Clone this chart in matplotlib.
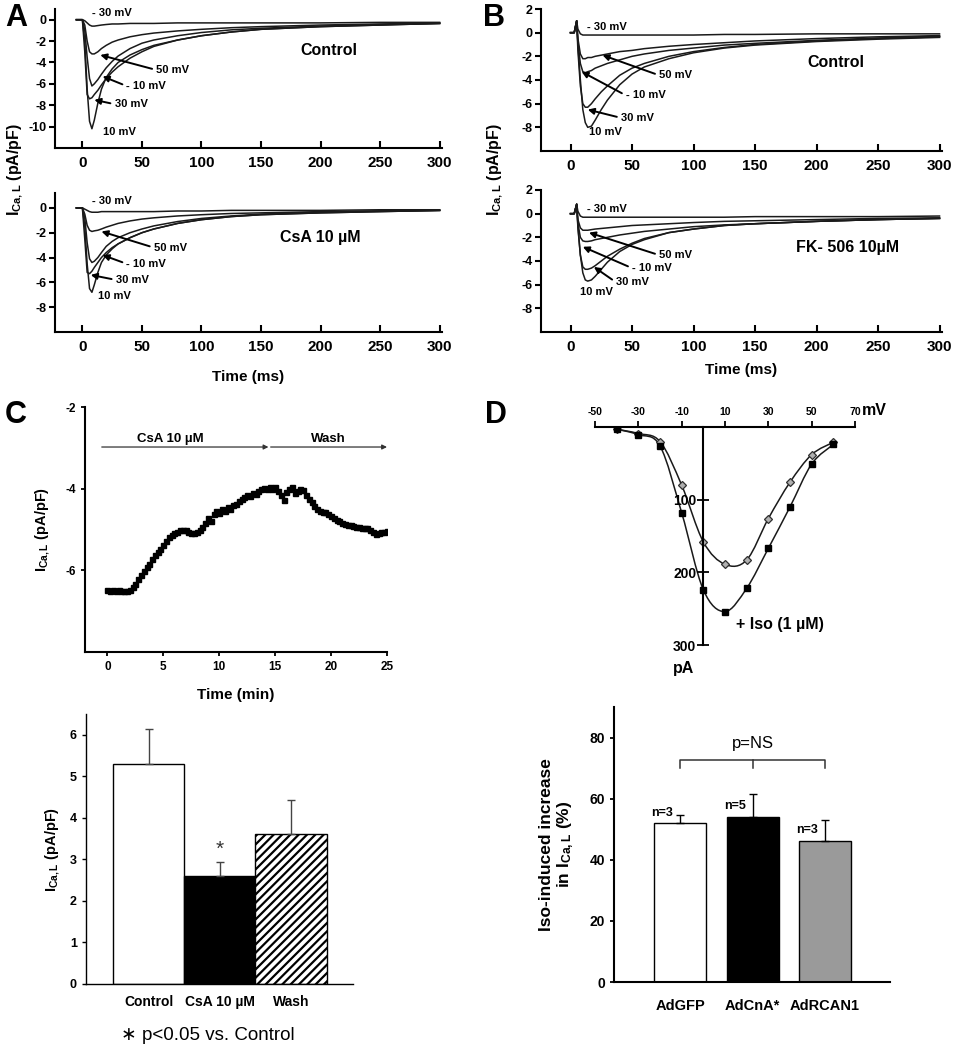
import numpy as np
import matplotlib
matplotlib.use("Agg")
import matplotlib.pyplot as plt
from matplotlib.path import Path
from matplotlib.patches import PathPatch

plt.rcParams['font.family'] = ['Liberation Sans', 'DejaVu Sans']
plt.rcParams['font.weight'] = 'bold'
plt.rcParams['axes.labelweight'] = 'bold'
plt.rcParams['axes.unicode_minus'] = False
plt.rcParams['mathtext.fontset'] = 'custom'
plt.rcParams['mathtext.rm'] = 'Liberation Sans:bold'
plt.rcParams['mathtext.it'] = 'Liberation Sans:bold'
plt.rcParams['mathtext.bf'] = 'Liberation Sans:bold'
plt.rcParams['axes.linewidth'] = 1.5
plt.rcParams['hatch.linewidth'] = 1.6

# ---------------- data ----------------
voltages = ["- 30 mV", "50 mV", "- 10 mV", "30 mV", "10 mV"]

# panel A traces (pA/pF), same time base
t_a = [-5, 0, 2, 4, 6, 8, 10, 13, 16, 20, 25, 30, 40, 50, 60, 80, 100, 125, 150, 200, 250, 300]
a_ctrl_m30 = [0, 0, -0.1, -0.3, -0.5, -0.6, -0.6, -0.55, -0.5, -0.45, -0.4, -0.4, -0.35, -0.35, -0.35, -0.3, -0.3, -0.3, -0.3, -0.3, -0.25, -0.25]
a_ctrl_50 = [0, 0, -0.5, -2.0, -3.0, -3.2, -3.2, -3.0, -2.7, -2.4, -2.1, -1.9, -1.6, -1.4, -1.25, -1.05, -0.9, -0.75, -0.65, -0.5, -0.4, -0.3]
a_ctrl_m10 = [0, 0, -1.0, -3.5, -5.5, -6.2, -6.0, -5.6, -5.1, -4.5, -3.9, -3.4, -2.7, -2.2, -1.9, -1.5, -1.2, -0.95, -0.8, -0.6, -0.45, -0.35]
a_ctrl_30 = [0, 0, -3.0, -7.0, -7.4, -7.3, -7.0, -6.6, -6.1, -5.5, -4.9, -4.4, -3.6, -3.0, -2.5, -1.9, -1.5, -1.15, -0.9, -0.65, -0.5, -0.35]
a_ctrl_10 = [0, 0, -2.0, -6.5, -9.5, -10.2, -9.4, -7.8, -6.5, -5.4, -4.6, -4.0, -3.3, -2.8, -2.4, -1.9, -1.5, -1.15, -0.9, -0.65, -0.5, -0.35]

a_csa_m30 = [0, 0, -0.1, -0.2, -0.3, -0.35, -0.35, -0.35, -0.3, -0.3, -0.3, -0.3, -0.3, -0.3, -0.3, -0.25, -0.25, -0.2, -0.2, -0.2, -0.15, -0.15]
a_csa_50 = [0, 0, -0.5, -1.4, -1.8, -1.9, -1.85, -1.8, -1.7, -1.55, -1.4, -1.25, -1.05, -0.9, -0.8, -0.65, -0.55, -0.45, -0.4, -0.3, -0.25, -0.2]
a_csa_m10 = [0, 0, -0.8, -2.8, -4.1, -4.4, -4.3, -4.0, -3.6, -3.1, -2.7, -2.4, -2.0, -1.7, -1.45, -1.1, -0.85, -0.65, -0.5, -0.35, -0.25, -0.2]
a_csa_30 = [0, 0, -2.5, -5.2, -5.3, -5.1, -4.8, -4.4, -4.0, -3.6, -3.2, -2.9, -2.4, -2.0, -1.7, -1.25, -0.95, -0.7, -0.55, -0.4, -0.3, -0.2]
a_csa_10 = [0, 0, -1.5, -4.5, -6.5, -6.8, -6.2, -5.2, -4.4, -3.8, -3.3, -2.9, -2.4, -2.0, -1.7, -1.25, -0.95, -0.7, -0.55, -0.4, -0.3, -0.2]

# panel B traces
t_b = [0, 3, 5, 6, 8, 10, 12, 14, 17, 20, 25, 30, 40, 50, 60, 80, 100, 125, 150, 200, 250, 300]
b_ctrl_m30 = [0, 0, 1.0, 0.3, -0.1, -0.2, -0.2, -0.2, -0.2, -0.2, -0.2, -0.2, -0.2, -0.2, -0.2, -0.2, -0.2, -0.15, -0.15, -0.1, -0.1, -0.1]
b_ctrl_50 = [0, 0, 1.0, -0.5, -1.8, -2.2, -2.2, -2.1, -2.1, -2.0, -1.9, -1.8, -1.6, -1.5, -1.35, -1.15, -1.0, -0.85, -0.7, -0.5, -0.35, -0.25]
b_ctrl_m10 = [0, 0, 1.0, -0.8, -2.6, -3.3, -3.4, -3.3, -3.2, -3.0, -2.8, -2.6, -2.3, -2.0, -1.8, -1.5, -1.3, -1.05, -0.9, -0.65, -0.45, -0.3]
b_ctrl_30 = [0, 0, 1.0, -1.5, -4.5, -6.0, -6.3, -6.3, -6.0, -5.6, -5.0, -4.5, -3.6, -3.0, -2.6, -2.0, -1.6, -1.25, -1.0, -0.7, -0.5, -0.35]
b_ctrl_10 = [0, 0, 1.0, -1.0, -4.0, -6.5, -7.6, -8.0, -7.9, -7.4, -6.5, -5.7, -4.4, -3.5, -2.9, -2.2, -1.7, -1.3, -1.05, -0.75, -0.55, -0.4]

b_fk_m30 = [0, 0, 0.8, 0.2, -0.2, -0.3, -0.3, -0.3, -0.3, -0.3, -0.3, -0.3, -0.3, -0.3, -0.3, -0.3, -0.3, -0.3, -0.25, -0.25, -0.25, -0.2]
b_fk_50 = [0, 0, 0.8, -0.5, -1.2, -1.4, -1.4, -1.4, -1.35, -1.3, -1.25, -1.2, -1.1, -1.0, -0.95, -0.85, -0.75, -0.65, -0.6, -0.5, -0.4, -0.35]
b_fk_m10 = [0, 0, 0.8, -0.8, -2.0, -2.3, -2.35, -2.35, -2.3, -2.2, -2.1, -2.0, -1.8, -1.65, -1.5, -1.3, -1.1, -0.95, -0.85, -0.65, -0.5, -0.4]
b_fk_30 = [0, 0, 0.8, -1.2, -3.5, -4.5, -4.7, -4.7, -4.6, -4.4, -4.0, -3.6, -3.0, -2.5, -2.1, -1.6, -1.3, -1.0, -0.85, -0.65, -0.5, -0.4]
b_fk_10 = [0, 0, 0.8, -1.0, -3.5, -5.0, -5.6, -5.7, -5.6, -5.3, -4.7, -4.1, -3.2, -2.6, -2.2, -1.6, -1.3, -1.0, -0.85, -0.65, -0.5, -0.4]

# panel C time course (min, pA/pF)
c_time = np.arange(0, 25.01, 0.25)
c_current = [-6.49, -6.50, -6.49, -6.50, -6.49, -6.50, -6.51, -6.50, -6.47, -6.42,
             -6.33, -6.22, -6.12, -6.02, -5.93, -5.84, -5.72, -5.62, -5.55, -5.48,
             -5.38, -5.27, -5.18, -5.13, -5.08, -5.05, -5.02, -5.00, -5.02, -5.06,
             -5.08, -5.08, -5.05, -5.00, -4.93, -4.85, -4.72, -4.80, -4.62, -4.55,
             -4.60, -4.50, -4.55, -4.45, -4.50, -4.40, -4.38, -4.30, -4.25, -4.20,
             -4.15, -4.18, -4.10, -4.12, -4.05, -4.02, -3.98, -4.00, -3.96, -4.02,
             -3.95, -4.05, -4.15, -4.28, -4.08, -4.02, -3.97, -4.10, -4.05, -4.00,
             -4.04, -4.15, -4.25, -4.33, -4.42, -4.50, -4.55, -4.58, -4.58, -4.62,
             -4.68, -4.72, -4.76, -4.80, -4.84, -4.86, -4.88, -4.90, -4.92, -4.94,
             -4.95, -4.96, -4.96, -4.97, -5.00, -5.05, -5.10, -5.08, -5.06, -5.05,
             -5.04]

# panel C bars
c_groups = ["Control", "CsA 10 µM", "Wash"]
c_means = [5.3, 2.6, 3.6]
c_errs = [0.83, 0.34, 0.83]

# panel D I-V (mV, pA)
d_mv = [-40, -30, -20, -10, 0, 10, 20, 30, 40, 50, 60]
d_ctrl = [3, 9, 20, 80, 158, 189, 183, 126, 76, 38, 21]
d_iso = [3, 10.5, 26, 118, 224, 254, 222, 167, 110, 51, 24]

# panel D bars
d_groups = ["AdGFP", "AdCnA*", "AdRCAN1"]
d_means = [51.9, 54.0, 46.3]
d_errs = [2.7, 7.5, 6.6]
d_n = ["n=3", "n=5", "n=3"]

# ---------------- figure ----------------
W, H = 954, 1050
fig = plt.figure(figsize=(W / 100, H / 100), dpi=100)


def ax_px(l, t, r, b):
    return fig.add_axes([l / W, 1 - b / H, (r - l) / W, (b - t) / H])


def trace_panel(ax, t, traces, xlim, ylim, yticks, labels, cond, cond_xy):
    for v in traces:
        ax.plot(t, v, color='#1a1a1a', lw=1.1)
    ax.set_xlim(*xlim)
    ax.set_ylim(*ylim)
    ax.set_xticks([0, 50, 100, 150, 200, 250, 300])
    ax.set_yticks(yticks)
    ax.spines['top'].set_visible(False)
    ax.spines['right'].set_visible(False)
    ax.tick_params(axis='x', direction='in', length=5, width=1.5, labelsize=11, pad=6)
    ax.tick_params(axis='y', direction='out', length=4, width=1.5, labelsize=9, pad=2)
    for lab, (txy, tip) in zip(voltages, labels):
        if tip is None:
            ax.text(txy[0], txy[1], lab, fontsize=8, ha='left', va='center')
        else:
            ax.annotate(lab, xy=tip, xytext=txy, fontsize=8, ha='left', va='center',
                        arrowprops=dict(arrowstyle='-|>', color='k', lw=1.4,
                                        mutation_scale=9, shrinkA=1, shrinkB=0,
                                        relpos=(0, 0.5)))
    ax.text(cond_xy[0], cond_xy[1], cond, fontsize=11.5, ha='center', va='center')


# A top
ax = ax_px(55, 9, 442, 148)
trace_panel(ax, t_a, [a_ctrl_m30, a_ctrl_50, a_ctrl_m10, a_ctrl_30, a_ctrl_10],
            (-23, 302), (-12, 1), [0, -2, -4, -6, -8, -10],
            [((8, 0.6), None), ((62, -4.7), (15, -3.3)), ((37, -6.2), (17, -5.3)),
             ((27, -7.9), (10, -7.5)), ((17, -10.5), None)],
            "Control", (207, -2.9))

# A bottom
ax = ax_px(55, 193, 442, 332)
trace_panel(ax, t_a, [a_csa_m30, a_csa_50, a_csa_m10, a_csa_30, a_csa_10],
            (-23, 302), (-10, 1.2), [0, -2, -4, -6, -8],
            [((8, 0.55), None), ((60, -3.2), (16, -1.9)), ((37, -4.5), (17, -3.8)),
             ((28, -5.8), (7, -5.4)), ((13, -7.1), None)],
            "CsA 10 µM", (200, -2.35))
ax.set_xlabel("Time (ms)", fontsize=11, labelpad=11)

# B top
ax = ax_px(541, 9, 942, 151)
trace_panel(ax, t_b, [b_ctrl_m30, b_ctrl_50, b_ctrl_m10, b_ctrl_30, b_ctrl_10],
            (-24, 302), (-10, 2), [2, 0, -2, -4, -6, -8],
            [((13, 0.5), None), ((72, -3.6), (26, -1.9)), ((45, -5.3), (9, -3.3)),
             ((41, -7.2), (14, -6.5)), ((15, -8.4), None)],
            "Control", (216, -2.5))

# B bottom
ax = ax_px(541, 190, 942, 332)
trace_panel(ax, t_b, [b_fk_m30, b_fk_50, b_fk_m10, b_fk_30, b_fk_10],
            (-24, 302), (-10, 2), [2, 0, -2, -4, -6, -8],
            [((13, 0.4), None), ((72, -3.5), (15, -1.6)), ((50, -4.6), (10, -2.8)),
             ((37, -5.8), (19, -4.5)), ((8, -6.6), None)],
            "FK- 506 10µM", (225, -2.9))
ax.set_xlabel("Time (ms)", fontsize=11, labelpad=6)

fig.text(15 / W, 1 - 170 / H, r"I$_{Ca,L}$ (pA/pF)", rotation=90, fontsize=11.5,
         ha='center', va='center')
fig.text(495 / W, 1 - 170 / H, r"I$_{Ca,L}$ (pA/pF)", rotation=90, fontsize=11.5,
         ha='center', va='center')

# C top: time course
ax = ax_px(85, 407, 387, 652)
ax.plot(c_time, c_current, ls='none', marker='s', ms=3.6, color='k')
ax.set_xlim(-2, 25)
ax.set_ylim(-8, -2)
ax.set_xticks([0, 5, 10, 15, 20, 25])
ax.set_yticks([-2, -4, -6])
ax.spines['top'].set_visible(False)
ax.spines['right'].set_visible(False)
ax.tick_params(axis='both', direction='out', length=3, width=1.3, labelsize=8.5)
ax.set_xlabel("Time (min)", fontsize=11, labelpad=11)
ax.set_ylabel(r"I$_{Ca,L}$ (pA/pF)", fontsize=10.5, labelpad=10)
arr = dict(arrowstyle='-|>', color='#333333', lw=0.9, mutation_scale=7, shrinkA=0, shrinkB=0)
ax.annotate('', xy=(14.4, -2.98), xytext=(-0.5, -2.98), arrowprops=arr)
ax.annotate('', xy=(25, -2.98), xytext=(14.6, -2.98), arrowprops=arr)
ax.text(5.6, -2.78, "CsA 10 µM", fontsize=9.5, ha='center', va='center')
ax.text(19.8, -2.78, "Wash", fontsize=9.5, ha='center', va='center')

# C bottom: bars
ax = ax_px(86, 714, 353, 984)
xb = np.arange(len(c_groups))
ax.bar(xb, c_means, width=1.0, color=['white', 'black', 'white'], edgecolor='k',
       linewidth=1.0, hatch=['', '', '////'])
ax.errorbar(xb, c_means, yerr=[np.zeros(3), c_errs], fmt='none', ecolor='#444444',
            elinewidth=1.0, capsize=3, capthick=1.0)
ax.text(1, c_means[1] + c_errs[1] + 0.3, "*", fontsize=15, ha='center', va='center',
        fontweight='normal', color='#333333')
ax.set_xlim(-0.88, 2.87)
ax.set_ylim(0, 6.5)
ax.set_yticks([0, 1, 2, 3, 4, 5, 6])
ax.set_xticks(xb)
ax.set_xticklabels(c_groups)
ax.spines['top'].set_visible(False)
ax.spines['right'].set_visible(False)
ax.spines['left'].set_linewidth(1.0)
ax.spines['bottom'].set_linewidth(1.0)
ax.tick_params(axis='x', length=0, labelsize=10, pad=8)
ax.tick_params(axis='y', direction='out', length=3, width=1, labelsize=9)
ax.set_ylabel(r"I$_{Ca,L}$ (pA/pF)", fontsize=10.5, labelpad=6)
fig.text(208 / W, 1 - 1035 / H, "∗ p<0.05 vs. Control", fontsize=13.5,
         fontweight='normal', ha='center', va='center')

# D top: I-V curve
ax = ax_px(595, 427, 855, 645)


def smooth(ax, x, y, **kw):
    p = np.column_stack([x, y]).astype(float)
    n = len(p)
    verts = [p[0]]
    codes = [Path.MOVETO]
    for i in range(n - 1):
        p0 = p[max(i - 1, 0)]
        p3 = p[min(i + 2, n - 1)]
        verts += [p[i] + (p[i + 1] - p0) / 6, p[i + 1] - (p3 - p[i]) / 6, p[i + 1]]
        codes += [Path.CURVE4] * 3
    ax.add_patch(PathPatch(Path(verts, codes), fill=False, **kw))


smooth(ax, d_mv, d_ctrl, lw=1.1, edgecolor='#1a1a1a')
smooth(ax, d_mv, d_iso, lw=1.1, edgecolor='#1a1a1a')
ax.plot(d_mv, d_ctrl, ls='none', marker='D', ms=4.5, mfc='#b0b0b0', mec='#303030', mew=0.9)
ax.plot(d_mv, d_iso, ls='none', marker='s', ms=5, color='k')
ax.set_xlim(-50, 70)
ax.set_ylim(300, 0)
ax.spines['left'].set_position(('data', 0))
ax.spines['right'].set_visible(False)
ax.spines['bottom'].set_visible(False)
ax.xaxis.tick_top()
ax.set_xticks([-50, -30, -10, 10, 30, 50, 70])
ax.set_yticks([100, 200, 300])
ax.tick_params(axis='x', direction='out', length=4, width=1.3, labelsize=7.5, pad=3)
ax.tick_params(axis='y', direction='inout', length=8, width=1.3, labelsize=10, pad=1)
ax.text(73, -12, "mV", fontsize=11.5, ha='left', va='bottom', clip_on=False)
ax.text(-9, 333, "pA", fontsize=11.5, ha='center', va='center', clip_on=False)
ax.text(15, 272, "+ Iso (1 µM)", fontsize=11.5, ha='left', va='center')

# D bottom: bars
ax = ax_px(614, 707, 890, 982)
xd = np.arange(len(d_groups))
ax.bar(xd, d_means, width=0.72, color=['white', 'black', '#9a9a9a'], edgecolor='k',
       linewidth=1.0)
ax.errorbar(xd, d_means, yerr=[np.zeros(3), d_errs], fmt='none', ecolor='k',
            elinewidth=1.0, capsize=3, capthick=1.0)
for x, m, e, lab in zip(xd, d_means, d_errs, d_n):
    ax.text(x - 0.25, m + 3.5, lab, fontsize=9, ha='center', va='center')
ax.plot([0, 0, 2, 2], [70.2, 72.6, 72.6, 70.2], color='#333333', lw=1.1)
ax.plot([1, 1], [72.6, 70.2], color='#333333', lw=1.1)
ax.text(1, 78, "p=NS", fontsize=12, fontweight='normal', ha='center', va='center')
ax.set_xlim(-0.92, 2.9)
ax.set_ylim(0, 90)
ax.set_yticks([0, 20, 40, 60, 80])
ax.set_xticks(xd)
ax.set_xticklabels(d_groups)
ax.spines['top'].set_visible(False)
ax.spines['right'].set_visible(False)
ax.tick_params(axis='x', length=0, labelsize=10.5, pad=12)
ax.tick_params(axis='y', direction='out', length=3, width=1.3, labelsize=10)
ax.set_ylabel("Iso-induced increase\n" + r"in I$_{Ca,L}$ (%)", fontsize=12.5,
              labelpad=10, linespacing=1.1)

# panel letters
for lab, x, y in [("A", 5, 3), ("B", 483, 3), ("C", 5, 400), ("D", 485, 400)]:
    fig.text(x / W, 1 - y / H, lab, fontsize=22, ha='left', va='top')

fig.savefig("out.png", dpi=100)
